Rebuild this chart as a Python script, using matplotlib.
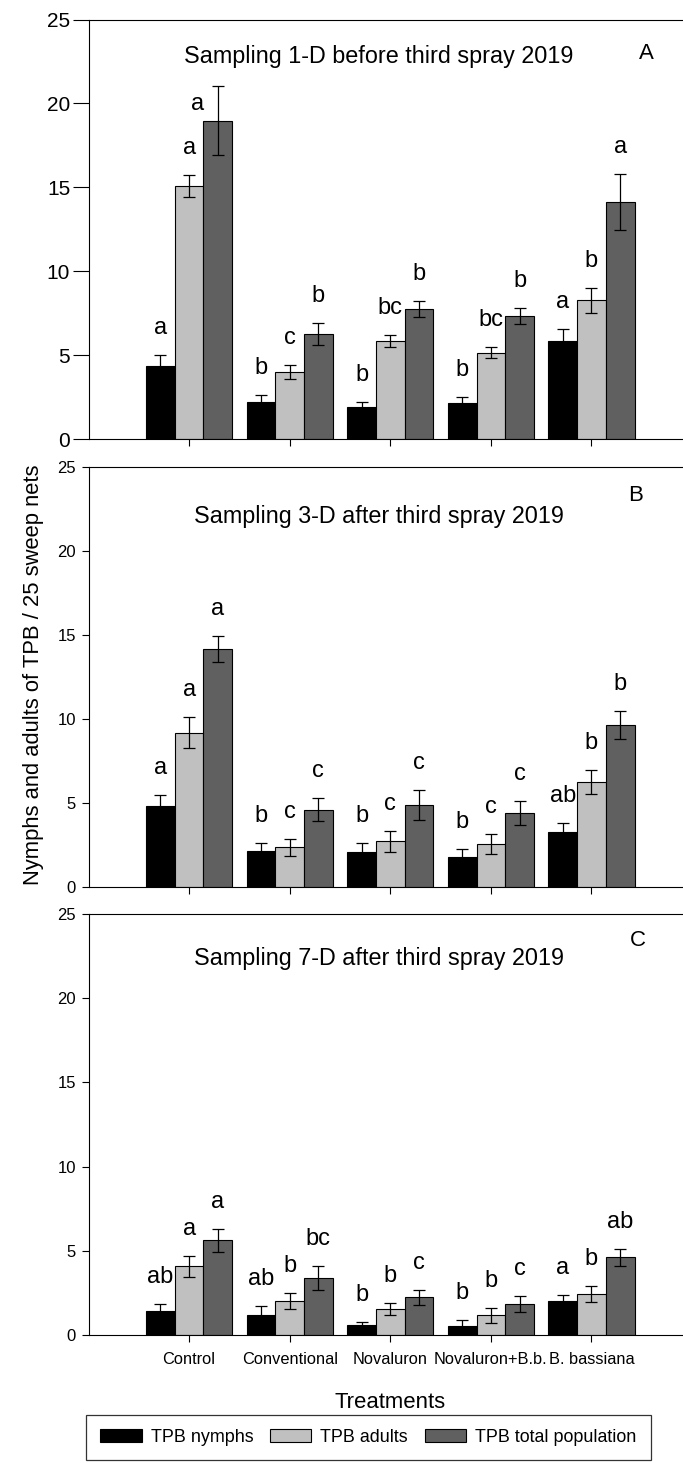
import numpy as np
import matplotlib
matplotlib.use("Agg")
import matplotlib.pyplot as plt
from matplotlib.patches import Patch

plt.rcParams['font.family'] = ['Liberation Sans', 'DejaVu Sans']

# --------------------------
# DATA
# --------------------------
treatments = ["Control", "Conventional", "Novaluron", "Novaluron+B.b.", "B. bassiana"]
series_names = ["TPB nymphs", "TPB adults", "TPB total population"]
colors = ["#000000", "#c0c0c0", "#606060"]

# panel A - 1 day before third spray
a_nymphs = [4.35, 2.22, 1.88, 2.12, 5.82]
a_nymphs_se = [0.65, 0.40, 0.34, 0.36, 0.74]
a_adults = [15.06, 4.00, 5.86, 5.15, 8.26]
a_adults_se = [0.65, 0.43, 0.36, 0.34, 0.73]
a_total = [18.98, 6.28, 7.77, 7.31, 14.12]
a_total_se = [2.05, 0.65, 0.47, 0.48, 1.65]
a_letters = [["a", "b", "b", "b", "a"],
             ["a", "c", "bc", "bc", "b"],
             ["a", "b", "b", "b", "a"]]

# panel B - 3 days after third spray
b_nymphs = [4.85, 2.14, 2.10, 1.76, 3.29]
b_nymphs_se = [0.60, 0.46, 0.50, 0.50, 0.51]
b_adults = [9.19, 2.36, 2.71, 2.54, 6.26]
b_adults_se = [0.90, 0.51, 0.60, 0.60, 0.71]
b_total = [14.16, 4.60, 4.87, 4.40, 9.65]
b_total_se = [0.78, 0.69, 0.91, 0.69, 0.83]
b_letters = [["a", "b", "b", "b", "ab"],
             ["a", "c", "c", "c", "b"],
             ["a", "c", "c", "c", "b"]]

# panel C - 7 days after third spray
c_nymphs = [1.42, 1.17, 0.57, 0.55, 2.00]
c_nymphs_se = [0.44, 0.53, 0.22, 0.36, 0.39]
c_adults = [4.08, 2.04, 1.54, 1.17, 2.43]
c_adults_se = [0.63, 0.47, 0.36, 0.43, 0.50]
c_total = [5.62, 3.38, 2.24, 1.84, 4.61]
c_total_se = [0.67, 0.73, 0.45, 0.45, 0.49]
c_letters = [["ab", "ab", "b", "b", "a"],
             ["a", "b", "b", "b", "b"],
             ["a", "bc", "c", "c", "ab"]]

panels = [
    ("Sampling 1-D before third spray 2019", "A",
     [a_nymphs, a_adults, a_total], [a_nymphs_se, a_adults_se, a_total_se], a_letters),
    ("Sampling 3-D after third spray 2019", "B",
     [b_nymphs, b_adults, b_total], [b_nymphs_se, b_adults_se, b_total_se], b_letters),
    ("Sampling 7-D after third spray 2019", "C",
     [c_nymphs, c_adults, c_total], [c_nymphs_se, c_adults_se, c_total_se], c_letters),
]

# --------------------------
# LAYOUT
# --------------------------
W, H = 683, 1463
fig = plt.figure(figsize=(W / 100, H / 100), dpi=100)

# (top, bottom) of each panel in pixels
boxes = [(19.5, 439), (467, 887), (914, 1335)]
title_y = [0.911, 0.881, 0.895]
tag_pos = [(0.925, 0.920), (0.907, 0.933), (0.910, 0.938)]

left_px = 88.5
width_px = 6 * 100.6
bar_w = 0.285
x = np.arange(1, 6)

for i, (title, tag, vals, errs, letters) in enumerate(panels):
    top, bot = boxes[i]
    ax = fig.add_axes([left_px / W, 1 - bot / H, width_px / W, (bot - top) / H])

    for k in range(3):
        xpos = x + (k - 1) * bar_w
        ax.bar(xpos, vals[k], width=bar_w, color=colors[k], edgecolor="black",
               linewidth=0.8, zorder=2)
        ax.errorbar(xpos, vals[k], yerr=errs[k], fmt="none", ecolor="black",
                    elinewidth=0.9, capsize=4.5, capthick=0.9, zorder=3)
        for j in range(5):
            lx = xpos[j]
            ly = vals[k][j] + errs[k][j] + 1.25
            if ly > 21:   # would hit the title, so it sits beside the bar
                lx = xpos[j] - 0.2
                ly = vals[k][j] + 0.65
            ax.text(lx, ly, letters[k][j], ha="center", va="baseline", fontsize=17)

    ax.set_xlim(0, 6)
    ax.set_ylim(0, 25)
    ax.set_yticks([0, 5, 10, 15, 20, 25])
    ax.set_xticks(x)
    if i == 2:
        ax.set_xticklabels(treatments, fontsize=11.8)
    else:
        ax.set_xticklabels([])
    ax.tick_params(axis="x", direction="out", length=5, width=0.8, pad=7)
    if i == 0:
        ax.tick_params(axis="y", direction="out", length=11.3, width=0.8, pad=1.9,
                       labelsize=15)
    else:
        ax.tick_params(axis="y", direction="out", length=5, width=0.8, pad=4,
                       labelsize=12)
    for s in ax.spines.values():
        s.set_linewidth(0.8)

    ax.text((379 - left_px) / width_px, title_y[i], title, transform=ax.transAxes,
            ha="center", va="center", fontsize=16.8)
    ax.text(tag_pos[i][0], tag_pos[i][1], tag, transform=ax.transAxes,
            ha="center", va="center", fontsize=16)

fig.text(34 / W, 1 - 675 / H, "Nymphs and adults of TPB / 25 sweep nets",
         rotation=90, ha="center", va="center", fontsize=15.8)
fig.text(390 / W, 1 - 1403 / H, "Treatments", ha="center", va="center", fontsize=15.9)

handles = [Patch(facecolor=c, edgecolor="black", linewidth=0.8) for c in colors]
leg = fig.legend(handles, series_names, loc="center", ncol=3,
                 bbox_to_anchor=(368.5 / W, 1 - 1437.5 / H), fontsize=12.9,
                 frameon=True, fancybox=False, edgecolor="black",
                 handlelength=2.3, handleheight=0.75, handletextpad=0.5,
                 columnspacing=0.95, borderpad=0.8)
leg.get_frame().set_linewidth(0.9)

fig.savefig("out.png", dpi=100)
